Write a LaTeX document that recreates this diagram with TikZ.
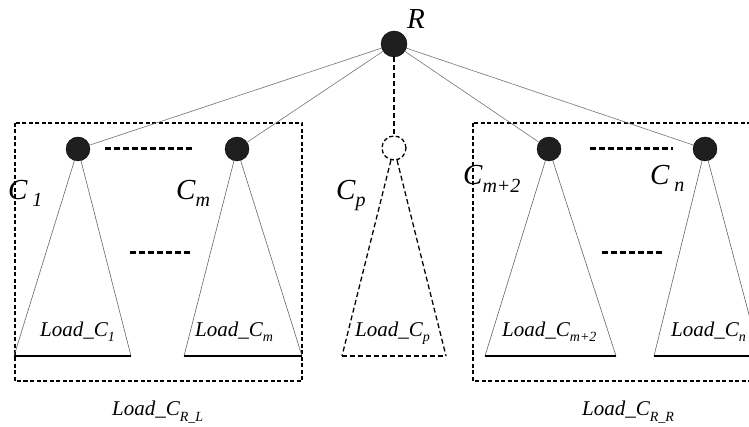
\documentclass[tikz,border=0pt]{standalone}
\usepackage{fontspec}
\setmainfont{Liberation Serif}
\newcommand\lowsub[3]{\raisebox{-#1}{\fontsize{#2}{#2}\selectfont #3}}
\begin{document}
\begin{tikzpicture}[x=1pt,y=-1pt,
  full/.style={circle,fill=black!88,draw=black,minimum size=24pt,inner sep=0pt},
  hollow/.style={circle,draw=black,dash pattern=on 4pt off 2.5pt,line width=1.3pt,minimum size=24pt,inner sep=0pt},
  edge/.style={draw=black!55,line width=0.6pt},
  side/.style={draw=black!60,line width=0.6pt},
  baseline/.style={draw=black,line width=1.2pt},
  dashline/.style={draw=black,line width=1.3pt,dash pattern=on 5pt off 3pt},
  boxline/.style={draw=black,line width=1.3pt,dash pattern=on 4pt off 2.5pt},
  ell/.style={draw=black,line width=3pt,dash pattern=on 6pt off 3pt},
  big/.style={inner sep=0pt,anchor=base west,font=\fontsize{29}{30}\selectfont\itshape},
  load/.style={inner sep=0pt,anchor=base west,font=\fontsize{21}{22}\selectfont\itshape}]

\useasboundingbox (0,0) rectangle (749,427);
\clip (0,0) rectangle (749,427);

% dashed group boxes
\draw[boxline] (15,123) rectangle (302,381);
\draw[boxline] (473,123) rectangle (770,381);

% nodes
\node[full,minimum size=26pt] (R) at (394,44) {};
\node[full] (C1) at (78,149) {};
\node[full] (Cm) at (237,149) {};
\node[hollow] (Cp) at (394,148) {};
\node[full] (Cm2) at (549,149) {};
\node[full] (Cn) at (705,149) {};

% edges from root
\draw[edge] (R) -- (C1);
\draw[edge] (R) -- (Cm);
\draw[dashline] (R) -- (Cp);
\draw[edge] (R) -- (Cm2);
\draw[edge] (R) -- (Cn);

% triangle base corners
\coordinate (a1) at (14,356);  \coordinate (b1) at (131,356);
\coordinate (am) at (184,356); \coordinate (bm) at (302,356);
\coordinate (ap) at (342,356); \coordinate (bp) at (446,356);
\coordinate (a2) at (485,356); \coordinate (b2) at (616,356);
\coordinate (an) at (654,356); \coordinate (bn) at (760,356);

\draw[side] (C1) -- (a1); \draw[side] (C1) -- (b1); \draw[baseline] (a1) -- (b1);
\draw[side] (Cm) -- (am); \draw[side] (Cm) -- (bm); \draw[baseline] (am) -- (bm);
\draw[dashline] (Cp) -- (ap); \draw[dashline] (Cp) -- (bp); \draw[dashline] (ap) -- (bp);
\draw[side] (Cm2) -- (a2); \draw[side] (Cm2) -- (b2); \draw[baseline] (a2) -- (b2);
\draw[side] (Cn) -- (an); \draw[side] (Cn) -- (bn); \draw[baseline] (an) -- (bn);

% ellipsis dashes
\coordinate (e1a) at (105,149); \coordinate (e1b) at (192,149);
\coordinate (e2a) at (130,253); \coordinate (e2b) at (192,253);
\coordinate (e3a) at (590,149); \coordinate (e3b) at (673,149);
\coordinate (e4a) at (602,253); \coordinate (e4b) at (663,253);
\draw[ell] (e1a) -- (e1b);
\draw[ell] (e2a) -- (e2b);
\draw[ell] (e3a) -- (e3b);
\draw[ell] (e4a) -- (e4b);

% labels
\node[big] (lR) at (407,29) {R};
\node[big] (lC1) at (8,200) {C\,\lowsub{7pt}{20}{1}};
\node[big] (lCm) at (176,200) {C\lowsub{7pt}{20}{m}};
\node[big] (lCp) at (336,200) {C\lowsub{7pt}{20}{p}};
\node[big] (lCm2) at (463,185) {C\lowsub{8pt}{20}{m+2}};
\node[big] (lCn) at (650,185) {C\,\lowsub{7pt}{20}{n}};

\node[load] (L1) at (40,337) {Load\_C\lowsub{5pt}{14}{1}};
\node[load] (Lm) at (195,337) {Load\_C\lowsub{5pt}{14}{m}};
\node[load] (Lp) at (355,337) {Load\_C\lowsub{5pt}{14}{p}};
\node[load] (L2) at (502,337) {Load\_C\lowsub{5pt}{14}{m+2}};
\node[load] (Ln) at (671,337) {Load\_C\lowsub{5pt}{14}{n}};

\node[load] (LRL) at (112,415) {Load\_C\lowsub{6pt}{14}{R\_L}};
\node[load] (LRR) at (582,415) {Load\_C\lowsub{6pt}{14}{R\_R}};
\end{tikzpicture}
\end{document}
